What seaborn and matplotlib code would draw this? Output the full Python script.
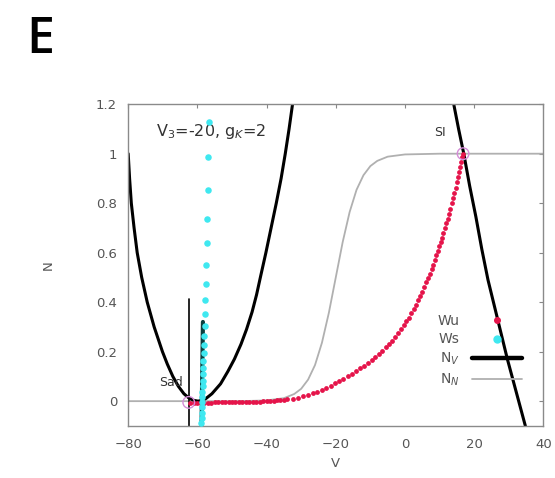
import numpy as np
import pandas as pd
import matplotlib
matplotlib.use("Agg")
import matplotlib.pyplot as plt
import seaborn as sns
from matplotlib.lines import Line2D

# N_V nullcline, parabola-like branch (left top -> vertex -> right top)
nv_v = [-80.0, -79.6, -79.1, -78.3, -77.4, -76.1, -74.5, -72.5, -70.1, -68.7, -67.1,
        -65.5, -63.9, -62.4, -61.0, -59.8, -58.7,
        -57.5, -55.8, -53.3, -51.2, -49.3, -47.4, -45.8, -44.2, -42.9, -41.8,
        -40.2, -38.7, -37.2, -35.8, -34.6, -33.5, -32.5]
nv_n = [1.0, 0.9, 0.8, 0.7, 0.6, 0.5, 0.4, 0.3, 0.2, 0.15, 0.1,
        0.06, 0.03, 0.012, 0.003, 0.0, 0.003,
        0.011, 0.03, 0.07, 0.12, 0.17, 0.23, 0.29, 0.36, 0.43, 0.5,
        0.6, 0.7, 0.8, 0.9, 1.0, 1.1, 1.2]
# N_V nullcline, right steep branch
nv2_v = [14.1, 15.5, 17.0, 18.7, 20.5, 22.2, 24.0, 26.8, 29.6, 32.2, 34.8]
nv2_n = [1.2, 1.1, 1.0, 0.87, 0.745, 0.615, 0.49, 0.33, 0.17, 0.035, -0.1]
# vertical pieces near the saddle
vl1_v = [-62.3, -62.3]
vl1_n = [0.414, -0.1]
vl2_v = [-58.4, -58.8]
vl2_n = [0.32, -0.1]

# N_N nullcline (grey sigmoid)
nn_v = [-80, -50, -45, -40, -35, -32, -30, -28, -26, -24, -22, -20, -18, -16,
        -14, -12, -10, -8, -5, 0, 10, 40]
nn_n = [0.0, 0.0, 0.001, 0.003, 0.012, 0.029, 0.05, 0.087, 0.146, 0.236, 0.357,
        0.5, 0.643, 0.764, 0.854, 0.913, 0.95, 0.971, 0.988, 0.997, 1.0, 1.0]

# Wu: unstable manifold (red dots)
wu_v = [-62, -61, -60, -59, -58, -57, -56, -55, -54, -53, -52, -51, -50, -49, -48,
        -47, -46, -45, -44, -43, -42, -41, -40, -39, -38, -37, -36, -35,
        -34, -32.5, -31, -29.5, -28, -26.7, -25.4, -24.1, -22.8, -21.5, -20.2,
        -19, -17.8, -16.6, -15.4, -14.2, -13, -11.8, -10.7, -9.6, -8.6, -7.6,
        -6.6, -5.6, -4.7, -3.8, -2.9, -2.0, -1.2, -0.4, 0.4, 1.1, 1.8, 2.5, 3.2,
        3.8, 4.4, 5.0, 5.6, 6.2, 6.7, 7.2, 7.7, 8.2, 8.7, 9.1, 9.5, 9.9, 10.3,
        10.7, 11.1, 11.5, 11.9, 12.3, 12.7, 13.1, 13.5, 13.9, 14.3, 14.7, 15.1,
        15.4, 15.7, 16.0, 16.3, 16.6, 16.9]
wu_n = [-0.006, -0.006, -0.006, -0.006, -0.006, -0.006, -0.006, -0.005, -0.005,
        -0.005, -0.005, -0.005, -0.005, -0.004, -0.004, -0.004, -0.004, -0.004,
        -0.003, -0.003, -0.002, -0.001, 0.0, 0.001, 0.002, 0.003, 0.004, 0.005,
        0.007, 0.010, 0.014, 0.019, 0.025, 0.031, 0.038, 0.045, 0.053, 0.062, 0.072,
        0.081, 0.091, 0.101, 0.111, 0.122, 0.133, 0.144, 0.155, 0.167, 0.179, 0.191,
        0.204, 0.218, 0.231, 0.245, 0.260, 0.276, 0.291, 0.306, 0.322, 0.338, 0.355,
        0.372, 0.390, 0.407, 0.425, 0.443, 0.462, 0.481, 0.498, 0.515, 0.533, 0.552,
        0.571, 0.59, 0.607, 0.625, 0.643, 0.661, 0.68, 0.699, 0.718, 0.738, 0.758,
        0.778, 0.799, 0.82, 0.841, 0.863, 0.885, 0.905, 0.925, 0.946, 0.967, 0.988, 1.0]

# Ws: stable manifold (cyan dots)
ws_v = [-56.7, -56.9, -57.0, -57.2, -57.3, -57.5, -57.6, -57.7, -57.8, -57.9,
        -58.0, -58.1, -58.2, -58.3, -58.35, -58.4, -58.45, -58.5, -58.55, -58.6,
        -58.65, -58.7, -58.75, -58.8, -58.85]
ws_n = [1.13, 0.985, 0.852, 0.738, 0.638, 0.551, 0.473, 0.41, 0.352, 0.302,
        0.262, 0.226, 0.193, 0.163, 0.135, 0.108, 0.083, 0.06, 0.038, 0.017,
        -0.004, -0.025, -0.046, -0.068, -0.09]

# fixed points
fp_v = [-62.5, 16.8]
fp_n = [-0.005, 1.0]

xticks = [-80, -60, -40, -20, 0, 20, 40]
yticks = [0, 0.2, 0.4, 0.6, 0.8, 1, 1.2]
ytick_labels = ["0", "0.2", "0.4", "0.6", "0.8", "1", "1.2"]

sns.set_style("white")
plt.rcParams["font.family"] = ["DejaVu Sans"]

red = "#e5144a"
cyan = "#3fe8f0"
grey = "#b0b0b0"

fig = plt.figure(figsize=(5.55, 4.78), dpi=100)
ax = fig.add_axes([0.231, 0.109, 0.748, 0.673])

sns.lineplot(x=nn_v, y=nn_n, sort=False, estimator=None, color=grey, lw=1.3, ax=ax)
sns.lineplot(x=nv_v, y=nv_n, sort=False, estimator=None, color="black", lw=2.2, ax=ax)
sns.lineplot(x=nv2_v, y=nv2_n, sort=False, estimator=None, color="black", lw=2.2, ax=ax)
sns.lineplot(x=vl1_v, y=vl1_n, sort=False, estimator=None, color="black", lw=1.2, ax=ax)
sns.lineplot(x=vl2_v, y=vl2_n, sort=False, estimator=None, color="#0b3f3f", lw=3.0, ax=ax)
sns.scatterplot(x=wu_v, y=wu_n, color=red, s=12, linewidth=0, ax=ax, zorder=4)
sns.scatterplot(x=ws_v, y=ws_n, color=cyan, s=22, linewidth=0, ax=ax, zorder=4)
ax.scatter(fp_v, fp_n, s=70, facecolors="none", edgecolors="#d58bd8", linewidths=1.0, zorder=5)

ax.set_xlim(-80, 40)
ax.set_ylim(-0.1, 1.2)
ax.set_xticks(xticks)
ax.set_yticks(yticks)
ax.set_yticklabels(ytick_labels)
ax.tick_params(direction="in", length=3, width=0.8, colors="#888888",
               labelcolor="#555555", labelsize=9.5, top=True, right=True)
ax.tick_params(axis="x", pad=9)
ax.tick_params(axis="y", pad=8)
for s in ax.spines.values():
    s.set_color("#8a8a8a")
    s.set_linewidth(1.0)
ax.set_xlabel("V", fontsize=9.5, color="#555555", labelpad=4)
ax.set_ylabel("N", fontsize=9.5, color="#555555", labelpad=30)

ax.text(-72, 1.09, r"V$_3$=-20, g$_K$=2", fontsize=11.5, color="#333333", va="center")
ax.text(-71, 0.075, "Sad", fontsize=9, color="#333333", va="center")
ax.text(8.5, 1.086, "SI", fontsize=9, color="#333333", va="center")

handles = [
    Line2D([], [], ls="none", marker="o", color=red, markersize=4),
    Line2D([], [], ls="none", marker="o", color=cyan, markersize=5),
    Line2D([], [], color="black", lw=3.2),
    Line2D([], [], color=grey, lw=1.3),
]
labels = ["Wu", "Ws", r"N$_V$", r"N$_N$"]
ax.legend(handles, labels, loc="upper right", bbox_to_anchor=(0.965, 0.37),
          frameon=False, markerfirst=False, fontsize=10, handlelength=3.6,
          labelspacing=0.33, borderpad=0, handletextpad=0.9, labelcolor="#555555")

fig.text(0.048, 0.89, "E", fontsize=36, fontfamily="Open Sans", fontweight="semibold",
         color="black")

fig.savefig("out.png", dpi=100)
